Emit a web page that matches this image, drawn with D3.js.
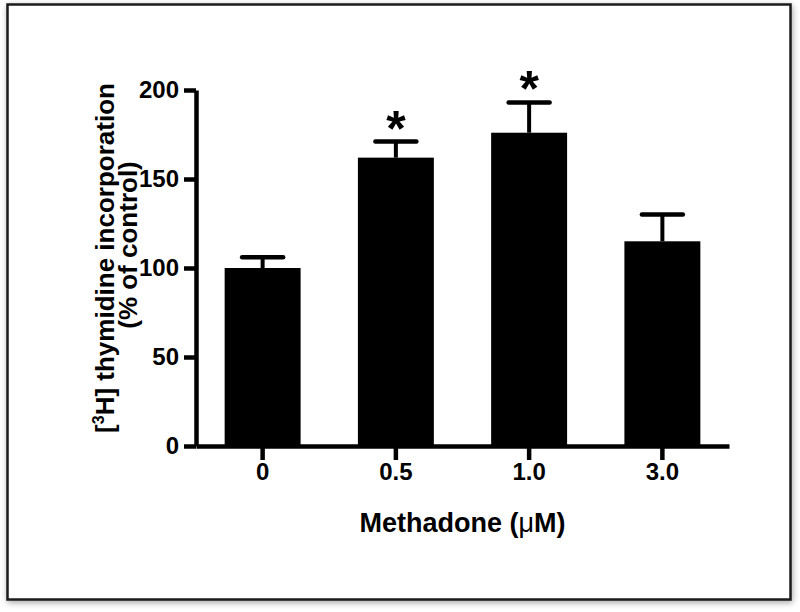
<!DOCTYPE html>
<html>
<head>
<meta charset="utf-8">
<script src="https://cdn.jsdelivr.net/npm/d3@7"></script>
<style>
  html, body { margin: 0; padding: 0; background: #fff; }
  svg { display: block; }
  text { font-family: "Liberation Sans", Arial, Helvetica, sans-serif; font-weight: bold; fill: #000; }
</style>
</head>
<body>
<svg id="chart" width="800" height="612"></svg>
<script>
// ---- data ----
const categories = ["0", "0.5", "1.0", "3.0"];
const means = [100, 162, 176, 115];
const errors = [6, 9, 17, 15];
const significant = [false, true, true, false];
const yTicks = [0, 50, 100, 150, 200];

const svg = d3.select("#chart");

// frame with soft shadow
const defs = svg.append("defs");
const f = defs.append("filter").attr("id", "shadow").attr("x", "-5%").attr("y", "-5%").attr("width", "110%").attr("height", "110%");
f.append("feGaussianBlur").attr("in", "SourceAlpha").attr("stdDeviation", 3).attr("result", "b");
f.append("feOffset").attr("in", "b").attr("dx", 1).attr("dy", 2).attr("result", "o");
f.append("feComponentTransfer").attr("in", "o").attr("result", "s")
  .append("feFuncA").attr("type", "linear").attr("slope", 0.35);
const m = f.append("feMerge");
m.append("feMergeNode").attr("in", "s");
m.append("feMergeNode").attr("in", "SourceGraphic");

svg.append("rect")
  .attr("x", 7.5).attr("y", 4.5).attr("width", 783).attr("height", 595)
  .attr("fill", "#fff").attr("stroke", "#1a1a1a").attr("stroke-width", 2.5)
  .attr("filter", "url(#shadow)");

// scales
const y = d3.scaleLinear().domain([0, 200]).range([446, 90]);
const x = d3.scaleBand().domain(categories).range([196, 729])
  .paddingInner(0.43).paddingOuter(0.215);

const AXW = 4.5;

// bars
svg.append("g").selectAll("rect").data(categories).join("rect")
  .attr("x", d => x(d))
  .attr("width", x.bandwidth())
  .attr("y", (d, i) => y(means[i]))
  .attr("height", (d, i) => y(0) - y(means[i]))
  .attr("fill", "#000");

// error bars (upper only)
const eg = svg.append("g").attr("stroke", "#000");
categories.forEach((c, i) => {
  const cx = x(c) + x.bandwidth() / 2;
  eg.append("line").attr("x1", cx).attr("x2", cx)
    .attr("y1", y(means[i])).attr("y2", y(means[i] + errors[i]))
    .attr("stroke-width", 4);
  eg.append("line").attr("x1", cx - 20.5).attr("x2", cx + 20.5)
    .attr("y1", y(means[i] + errors[i])).attr("y2", y(means[i] + errors[i]))
    .attr("stroke-width", 4.5).attr("stroke-linecap", "round");
});

// significance stars
svg.append("g").selectAll("text").data(categories.filter((c, i) => significant[i])).join("text")
  .attr("x", d => x(d) + x.bandwidth() / 2)
  .attr("y", d => { const i = categories.indexOf(d); return y(means[i] + errors[i]) + 4; })
  .attr("text-anchor", "middle")
  .style("font-size", "50px")
  .text("*");

// y axis
const ya = svg.append("g").attr("transform", "translate(196,0)")
  .call(d3.axisLeft(y).tickValues(yTicks).tickSize(12).tickSizeOuter(0).tickPadding(5));
ya.selectAll("path,line").attr("stroke", "#000").attr("stroke-width", AXW);
ya.selectAll("text").style("font-size", "24px").style("font-family", null);

// x axis
const xa = svg.append("g").attr("transform", "translate(0,446)")
  .call(d3.axisBottom(x).tickSize(14).tickSizeOuter(0).tickPadding(3));
xa.select(".domain").attr("stroke", "#000").attr("stroke-width", AXW);
xa.selectAll("line").attr("stroke", "#000").attr("stroke-width", AXW);
xa.selectAll("text").style("font-size", "24px").style("font-family", null);

// x title
const xt = svg.append("text")
  .attr("x", (196 + 729) / 2).attr("y", 532)
  .attr("text-anchor", "middle")
  .style("font-size", "27px");
xt.append("tspan").text("Methadone (");
xt.append("tspan").text("\u03BC").style("font-weight", "normal");
xt.append("tspan").text("M)");

// y title (two lines)
const l1 = svg.append("text").attr("transform", "translate(114,258) rotate(-90)")
  .attr("text-anchor", "middle").style("font-size", "26px");
l1.append("tspan").text("[");
l1.append("tspan").text("3").style("font-size", "16px").attr("dy", -10);
l1.append("tspan").text("H] thymidine incorporation").attr("dy", 10);
svg.append("text").attr("transform", "translate(137,245) rotate(-90)")
  .attr("text-anchor", "middle").style("font-size", "26px")
  .text("(% of control)");
</script>
</body>
</html>
